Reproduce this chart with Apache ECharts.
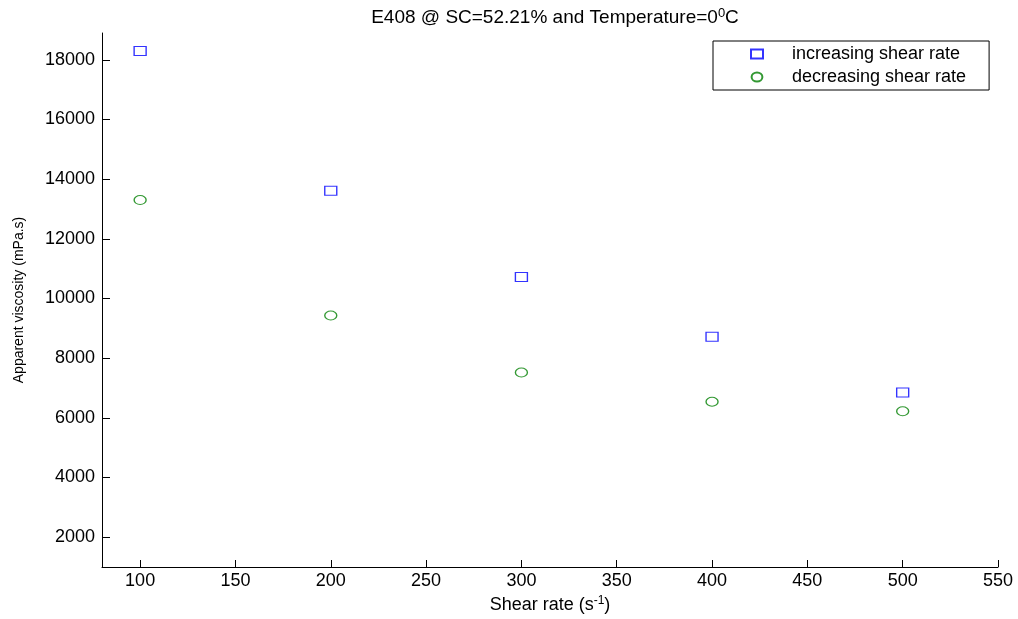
<!DOCTYPE html>
<html>
<head>
<meta charset="utf-8">
<script src="https://cdn.jsdelivr.net/npm/echarts@6/dist/echarts.min.js"></script>
<style>html,body{margin:0;padding:0;background:#fff}#c{width:1018px;height:619px}</style>
</head>
<body>
<div id="c"></div>
<script>
var shearRates = [100, 200, 300, 400, 500];
var increasing = [18300, 13610, 10720, 8720, 6850];
var decreasing = [13300, 9430, 7520, 6540, 6220];
var yTicks = [2000, 4000, 6000, 8000, 10000, 12000, 14000, 16000, 18000];
var xTicks = [100, 150, 200, 250, 300, 350, 400, 450, 500, 550];

var FONT = '"Liberation Sans", Arial, Helvetica, sans-serif';
var ellipse = 'path://M0,5A6,5 0 1,0 12,5A6,5 0 1,0 0,5Z';

function pairs(xs, ys) { return xs.map(function (x, i) { return [x, ys[i]]; }); }
function plain(v) { return String(v); }

var chart = echarts.init(document.getElementById('c'));
chart.setOption({
  animation: false,
  backgroundColor: '#fff',
  textStyle: { fontFamily: FONT },
  title: {
    text: 'E408 @ SC=52.21% and Temperature=0{sup|0}C',
    left: 550, top: 2, textAlign: 'center',
    textStyle: {
      fontFamily: FONT, fontSize: 19, fontWeight: 'normal', color: '#000',
      rich: { sup: { fontSize: 13, verticalAlign: 'top', padding: [0, 0, 8, 0], fontFamily: FONT, color: '#000' } }
    }
  },
  legend: {
    orient: 'vertical', left: 713, top: 41,
    padding: [4, 23, 4, 37], itemGap: 5,
    itemWidth: 12, itemHeight: 9,
    borderColor: '#000', borderWidth: 1, backgroundColor: '#fff',
    textStyle: { fontFamily: FONT, fontSize: 18, color: '#000', lineHeight: 18, padding: [0, 0, 0, 24] },
    data: ['increasing shear rate', 'decreasing shear rate']
  },
  grid: { left: 102, right: 20, top: 33, bottom: 50, containLabel: false },
  xAxis: {
    type: 'value', min: 80, max: 550,
    name: 'Shear rate (s{sup|-1})', nameLocation: 'middle', nameGap: 28,
    nameTextStyle: {
      fontFamily: FONT, fontSize: 18, color: '#000',
      rich: { sup: { fontSize: 12, verticalAlign: 'top', padding: [0, 0, 8, 0], fontFamily: FONT, color: '#000' } }
    },
    axisLine: { show: true, lineStyle: { color: '#000', width: 1 } },
    axisTick: { show: true, inside: true, length: 7, customValues: xTicks, lineStyle: { color: '#000' } },
    axisLabel: { customValues: xTicks, formatter: plain, color: '#000', fontSize: 18, fontFamily: FONT, margin: 5 },
    splitLine: { show: false }
  },
  yAxis: {
    type: 'value', min: 1000, max: 18900,
    name: 'Apparent viscosity (mPa.s)', nameLocation: 'middle', nameGap: 76,
    nameTextStyle: { fontFamily: FONT, fontSize: 14, color: '#000' },
    axisLine: { show: true, lineStyle: { color: '#000', width: 1 } },
    axisTick: { show: true, inside: true, length: 8, customValues: yTicks, lineStyle: { color: '#000' } },
    axisLabel: { customValues: yTicks, formatter: plain, color: '#000', fontSize: 18, fontFamily: FONT, margin: 7 },
    splitLine: { show: false }
  },
  series: [
    {
      name: 'increasing shear rate', type: 'scatter',
      symbol: 'rect', symbolSize: [12, 9],
      itemStyle: { color: '#fff', borderColor: '#0000ff', borderWidth: 1.2 },
      data: pairs(shearRates, increasing)
    },
    {
      name: 'decreasing shear rate', type: 'scatter',
      symbol: ellipse, symbolSize: [12, 9],
      itemStyle: { color: '#fff', borderColor: '#008000', borderWidth: 1.2 },
      data: pairs(shearRates, decreasing)
    }
  ]
});
</script>
</body>
</html>
